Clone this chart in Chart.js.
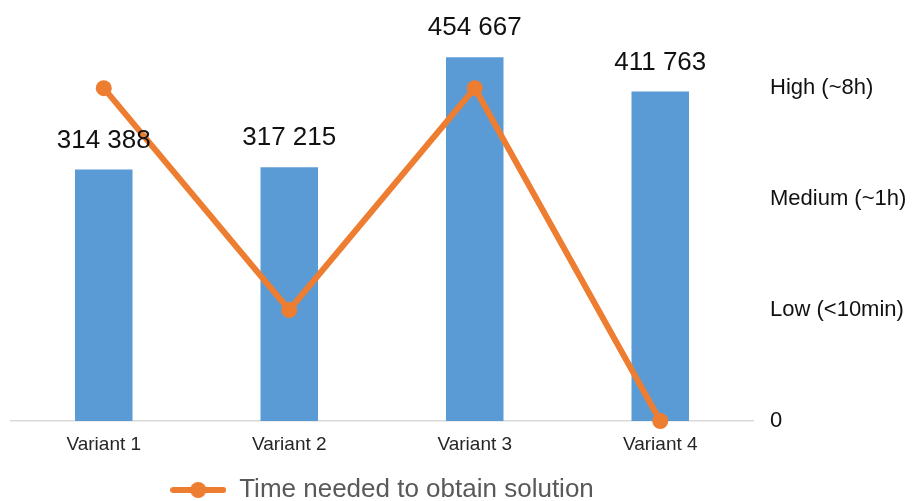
<!DOCTYPE html>
<html>
<head>
<meta charset="utf-8">
<script src="https://cdn.jsdelivr.net/npm/chart.js@4/dist/chart.umd.min.js"></script>
<style>
  html, body { margin: 0; padding: 0; background: #fff; }
  #wrap { width: 917px; height: 501px; position: relative; }
</style>
</head>
<body>
<div id="wrap"><canvas id="chart"></canvas></div>
<script>
const categories = ['Variant 1', 'Variant 2', 'Variant 3', 'Variant 4'];
const solutionCounts = [314388, 317215, 454667, 411763];
const timeLevels = [3, 1, 3, 0];
const timeTickLabels = ['0', 'Low (<10min)', 'Medium (~1h)', 'High (~8h)'];

const ORANGE = '#ED7D31';
const BLUE = '#5B9BD5';

Chart.defaults.font.family = "'Liberation Sans', Arial, sans-serif";

// legend marker: short line with a dot in the middle
const marker = document.createElement('canvas');
marker.width = 56;
marker.height = 18;
(() => {
    const c = marker.getContext('2d');
    c.strokeStyle = ORANGE;
    c.lineWidth = 6;
    c.lineCap = 'round';
    c.beginPath();
    c.moveTo(3, 9);
    c.lineTo(53, 9);
    c.stroke();
    c.fillStyle = ORANGE;
    c.beginPath();
    c.arc(28, 9, 8, 0, Math.PI * 2);
    c.fill();
})();

function formatThousands(v) {
    return String(v).replace(/\B(?=(\d{3})+(?!\d))/g, ' ');
}

// value labels above the bars
const barValueLabels = {
    id: 'barValueLabels',
    afterDatasetsDraw(chart) {
        const ctx = chart.ctx;
        const meta = chart.getDatasetMeta(1);
        ctx.save();
        ctx.font = "26px 'Liberation Sans', Arial, sans-serif";
        ctx.fillStyle = '#111';
        ctx.textAlign = 'center';
        ctx.textBaseline = 'middle';
        meta.data.forEach((bar, i) => {
            ctx.fillText(formatThousands(solutionCounts[i]), bar.x, bar.y - 29);
        });
        ctx.restore();
    }
};

new Chart(document.getElementById('chart').getContext('2d'), {
    data: {
        labels: categories,
        datasets: [
            {
                type: 'line',
                label: 'Time needed to obtain solution',
                data: timeLevels,
                yAxisID: 'y1',
                borderColor: ORANGE,
                backgroundColor: ORANGE,
                borderWidth: 6,
                pointRadius: 8,
                pointBackgroundColor: ORANGE,
                pointBorderWidth: 0,
                tension: 0,
                clip: false
            },
            {
                type: 'bar',
                label: 'Solutions',
                data: solutionCounts,
                yAxisID: 'y',
                backgroundColor: BLUE,
                categoryPercentage: 1,
                barPercentage: 0.31
            }
        ]
    },
    options: {
        responsive: true,
        maintainAspectRatio: false,
        animation: false,
        layout: { padding: { left: 11, top: 21, right: 0, bottom: -12 } },
        plugins: {
            tooltip: { enabled: false },
            legend: {
                position: 'bottom',
                fullSize: false,
                labels: {
                    usePointStyle: true,
                    pointStyleWidth: 56,
                    padding: 0,
                    color: '#595959',
                    font: { size: 26 },
                    generateLabels(chart) {
                        const items = Chart.defaults.plugins.legend.labels.generateLabels(chart);
                        return items
                            .filter(it => it.datasetIndex === 0)
                            .map(it => ({ ...it, pointStyle: marker }));
                    }
                }
            }
        },
        scales: {
            x: {
                grid: { display: false, drawTicks: false },
                border: { color: '#d9d9d9', width: 1.5 },
                ticks: { color: '#262626', font: { size: 19 }, padding: 12 },
                afterFit(scale) { scale.height = 56; }
            },
            y: {
                display: false,
                min: 0,
                max: 500000
            },
            y1: {
                position: 'right',
                min: 0,
                max: 3.605,
                grid: { display: false, drawTicks: false },
                border: { display: false },
                ticks: {
                    color: '#111',
                    padding: 17,
                    font: { size: 22 },
                    callback: v => timeTickLabels[v]
                },
                afterBuildTicks(scale) {
                    scale.ticks = timeTickLabels.map((_, i) => ({ value: i }));
                },
                afterFit(scale) {
                    scale.width = 164;
                    scale.paddingTop = 0;
                    scale.paddingBottom = 0;
                }
            }
        }
    },
    plugins: [barValueLabels]
});
</script>
</body>
</html>
